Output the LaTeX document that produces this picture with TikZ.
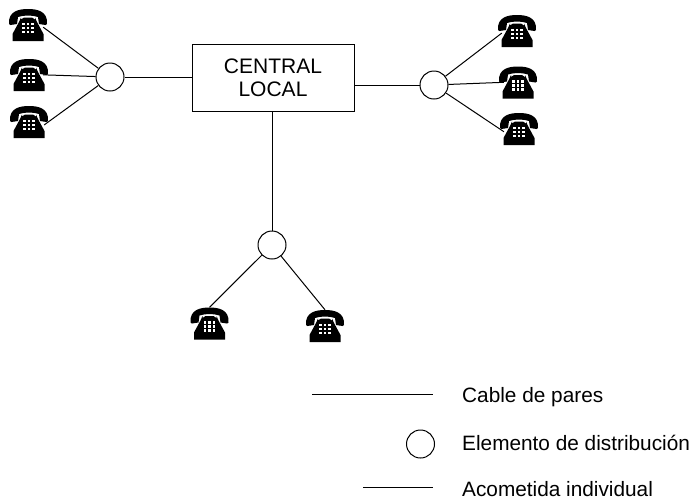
\documentclass[tikz,border=0pt]{standalone}
\usepackage{fontspec}
\setmainfont{Liberation Sans}
\tikzset{
	phone/.style={inner sep=0pt, minimum width=38, minimum height=32, path picture={
		\begin{scope}[shift={(path picture bounding box.center)}]
			% handset
			\fill (-19,-1) .. controls (-20,-14) and (-9,-16) .. (0,-16) .. controls (9,-16) and (20,-14) .. (19,-1) -- (17.5,0) -- (11,-1) -- (10,-8) .. controls (4,-10) and (-4,-10) .. (-10,-8) -- (-11,-1) -- (-17.5,0) -- cycle;
			% body
			\fill (-7,-7.5) -- (-7,-5.5) -- (-4,-7.5) -- (4,-7.5) -- (7,-5.5) -- (7,-7.5) -- (9,-3) -- (15.5,9) -- (15.5,16) -- (-15.5,16) -- (-15.5,9) -- (-9,-3) -- cycle;
			% keys
			\foreach \kx in {-4.5,0,4.5}
				\foreach \ky in {-1,3,7}
					\fill[white] (\kx-1.4,\ky-1.2) rectangle (\kx+1.4,\ky+1.2);
		\end{scope}}},
	distrib/.style={draw, circle, inner sep=0pt, minimum size=28, line width=1, fill=white},
	central/.style={draw, line width=1, minimum width=162, minimum height=67, align=center, font=\fontsize{21}{23}\selectfont},
	wire/.style={line width=1},
	drop/.style={wire, shorten >=-5},
	legendtext/.style={anchor=base west, inner sep=0pt, font=\fontsize{20.8}{23}\selectfont}
}
\begin{document}
\begin{tikzpicture}[x=1pt, y=-1pt]
	\useasboundingbox (0,0) rectangle (691,499);

	\node[central] (cl) at (273,77.5) {CENTRAL\\LOCAL};

	\node[distrib] (dl) at (110,77) {};
	\node[distrib] (dr) at (434,85) {};
	\node[distrib] (db) at (272,245) {};

	\node[phone] (pl1) at (28,25) {};
	\node[phone] (pl2) at (29,75) {};
	\node[phone] (pl3) at (29,122) {};
	\node[phone] (pr1) at (517,31) {};
	\node[phone] (pr2) at (518,82.5) {};
	\node[phone] (pr3) at (519,129) {};
	\node[phone] (pb1) at (209.5,323.5) {};
	\node[phone] (pb2) at (325,326) {};

	\draw[wire] (dl) -- (cl.west |- dl.east);
	\draw[wire] (dr) -- (cl.east |- dr.west);
	\draw[wire] (db) -- (db |- cl.south);

	\draw[drop] (dl) -- (pl1.-15);
	\draw[drop] (dl) -- (pl2.east);
	\draw[drop] (dl) -- (pl3.east);
	\draw[drop] (dr) -- (pr1.195);
	\draw[drop] (dr) -- (pr2.west);
	\draw[drop] (dr) -- (pr3.west);
	\draw[wire] (db) -- (pb1.north);
	\draw[wire] (db) -- (pb2.north);

	% legend
	\coordinate (la) at (312,394);
	\coordinate (lb) at (433,394);
	\draw[wire] (la) -- (lb);
	\node[distrib] (ld) at (420.5,444) {};
	\coordinate (lc) at (363,487);
	\coordinate (le) at (433,487);
	\draw[wire] (lc) -- (le);

	\node[legendtext] (tc) at (462,402) {Cable de pares};
	\node[legendtext] (te) at (462,450) {Elemento de distribución};
	\node[legendtext] (ta) at (462,496) {Acometida individual};
\end{tikzpicture}
\end{document}
